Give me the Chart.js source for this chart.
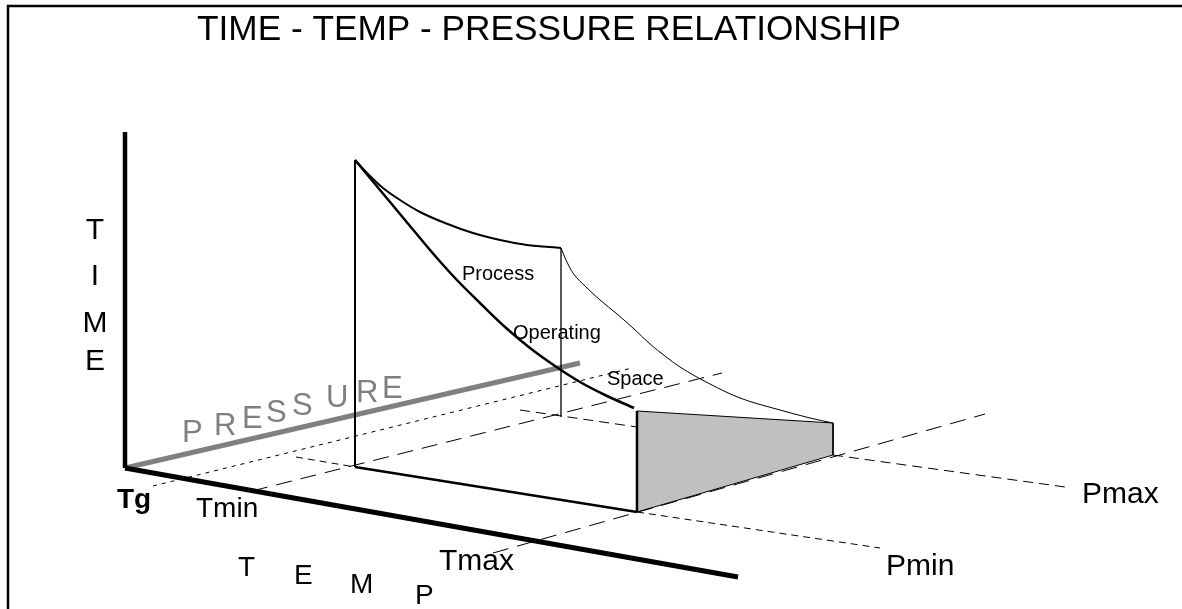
<!DOCTYPE html>
<html lang="en">
<head>
    <meta charset="UTF-8">
    <title>Time - Temp - Pressure Relationship</title>
    <style>
        html, body { margin: 0; padding: 0; background: #fff; }
        #wrap { width: 1182px; height: 609px; }
    </style>
</head>
<body>
    <div id="wrap"><canvas id="diagram" width="1182" height="609"></canvas></div>

    <script src="https://cdn.jsdelivr.net/npm/chart.js"></script>
    <script>
        // diagram points (x right, y down)
        const frameTop = [[7, 6], [1182, 6]];
        const frameLeft = [[8, 5], [8, 609]];

        const timeAxis = [[125, 132], [125, 468]];
        const tempAxis = [[125, 468], [738, 577]];
        const pressureAxis = [[125, 468], [580, 363]];

        const frontEdge = [[355, 160], [355, 467]];
        const frontBase = [[355, 467], [637, 512]];
        const tmaxEdge = [[637, 411], [637, 512]];
        const backEdge = [[561, 248], [561, 417]];

        const topCurve = [[355, 160], [368, 174], [383, 188], [400, 200], [420, 212], [445, 223],
            [473, 233], [500, 240], [527, 245], [561, 248]];
        const pminCurve = [[355, 160], [380, 190], [405, 220], [430, 250], [455, 278], [480, 303],
            [505, 327], [530, 348], [555, 366], [580, 382], [605, 395], [634, 408]];
        const pmaxCurve = [[561, 248], [566, 260], [573, 273], [586, 287], [600, 300], [617, 314],
            [633, 328], [650, 344], [665, 356], [680, 367], [710, 384], [740, 398], [780, 410],
            [810, 418], [833, 423]];

        const tmaxFace = [[637, 411], [833, 423], [833, 455], [637, 512], [637, 411]];

        const tgLine = [[153, 486], [632, 368]];
        const tminLine = [[252, 491], [722, 373]];
        const tmaxLine = [[493, 553], [985, 414]];
        const pminLeft = [[296, 457], [355, 467]];
        const pminRight = [[637, 512], [880, 548]];
        const pmaxLeft = [[520, 410], [637, 427]];
        const pmaxRight = [[833, 455], [1065, 487]];

        const titleText = 'TIME - TEMP - PRESSURE RELATIONSHIP';
        const timeLetters = ['T', 'I', 'M', 'E'];
        const timeLetterPos = [[95, 239], [95, 285], [95, 332], [95, 370]];
        const tempLetters = ['T', 'E', 'M', 'P'];
        const tempLetterPos = [[238, 576], [294, 584], [350, 593], [415, 604]];
        const pressureLetters = ['P', 'R', 'E', 'S', 'S', 'U', 'R', 'E'];
        const pressureLetterPos = [[182, 442], [214, 435], [242, 428], [266, 422], [292, 415],
            [326, 407], [356, 402], [382, 398]];
        const axisLabels = ['Tmin', 'Tmax', 'Pmin', 'Pmax'];
        const axisLabelPos = [[196, 517], [439, 570], [886, 575], [1082, 503]];
        const regionLabels = ['Process', 'Operating', 'Space'];
        const regionLabelPos = [[462, 280], [513, 339], [607, 385]];

        const toXY = pts => pts.map(p => ({ x: p[0], y: p[1] }));

        function line(pts, color, width, dash, smooth) {
            return {
                data: toXY(pts),
                showLine: true,
                borderColor: color,
                borderWidth: width,
                borderDash: dash || [],
                pointRadius: 0,
                fill: false,
                clip: false,
                cubicInterpolationMode: smooth ? 'monotone' : 'default',
                tension: 0
            };
        }

        const face = line(tmaxFace, '#000', 1, null, false);
        face.fill = 'shape';
        face.backgroundColor = '#c0c0c0';

        const FONT = '"Liberation Sans", Arial, sans-serif';

        const textPlugin = {
            id: 'diagramText',
            afterDatasetsDraw(chart) {
                const ctx = chart.ctx;
                const sx = chart.scales.x, sy = chart.scales.y;
                const px = v => sx.getPixelForValue(v);
                const py = v => sy.getPixelForValue(v);
                ctx.save();
                ctx.textBaseline = 'alphabetic';
                ctx.textAlign = 'left';

                ctx.font = '35px ' + FONT;
                ctx.fillStyle = '#000';
                const w = ctx.measureText(titleText).width;
                ctx.save();
                ctx.translate(px(197), py(40));
                ctx.scale((px(901) - px(197)) / w, 1);
                ctx.fillText(titleText, 0, 0);
                ctx.restore();

                ctx.font = '30px ' + FONT;
                ctx.textAlign = 'center';
                timeLetters.forEach((t, i) => ctx.fillText(t, px(timeLetterPos[i][0]), py(timeLetterPos[i][1])));
                ctx.textAlign = 'left';
                ctx.font = '28px ' + FONT;
                tempLetters.forEach((t, i) => ctx.fillText(t, px(tempLetterPos[i][0]), py(tempLetterPos[i][1])));

                ctx.font = '31px ' + FONT;
                ctx.fillStyle = '#808080';
                pressureLetters.forEach((t, i) => ctx.fillText(t, px(pressureLetterPos[i][0]), py(pressureLetterPos[i][1])));

                ctx.fillStyle = '#000';
                ctx.font = 'bold 28px ' + FONT;
                ctx.fillText('Tg', px(117), py(508));

                axisLabels.forEach((t, i) => {
                    ctx.font = (i === 0 ? '28px ' : '30px ') + FONT;
                    ctx.fillText(t, px(axisLabelPos[i][0]), py(axisLabelPos[i][1]));
                });

                ctx.font = '20px ' + FONT;
                regionLabels.forEach((t, i) => ctx.fillText(t, px(regionLabelPos[i][0]), py(regionLabelPos[i][1])));
                ctx.restore();
            }
        };

        new Chart(document.getElementById('diagram'), {
            type: 'scatter',
            data: {
                datasets: [
                    line(frameTop, '#000', 2.5),
                    line(frameLeft, '#000', 2.5),
                    line(timeAxis, '#000', 4.5),
                    line(tempAxis, '#000', 5),
                    line(tmaxEdge, '#000', 2.5),
                    line(frontBase, '#000', 2.5),
                    line(frontEdge, '#000', 2),
                    line(pminCurve, '#000', 2.5, null, true),
                    line(topCurve, '#000', 2, null, true),
                    line(pmaxCurve, '#000', 1, null, true),
                    line(backEdge, '#000', 1.3),
                    line(pressureAxis, '#808080', 5),
                    line(tgLine, '#000', 1, [4, 5]),
                    line(tminLine, '#000', 1, [16, 9]),
                    line(tmaxLine, '#000', 1, [16, 9]),
                    line(pminLeft, '#000', 1, [7, 5]),
                    line(pminRight, '#000', 1, [7, 5]),
                    line(pmaxLeft, '#000', 1, [10, 6]),
                    line(pmaxRight, '#000', 1, [10, 6]),
                    face
                ]
            },
            options: {
                responsive: false,
                animation: false,
                layout: { padding: 0 },
                plugins: { legend: { display: false }, tooltip: { enabled: false } },
                scales: {
                    x: { type: 'linear', min: 0, max: 1182, display: false },
                    y: { type: 'linear', min: 0, max: 609, reverse: true, display: false }
                }
            },
            plugins: [textPlugin]
        });
    </script>
</body>
</html>
